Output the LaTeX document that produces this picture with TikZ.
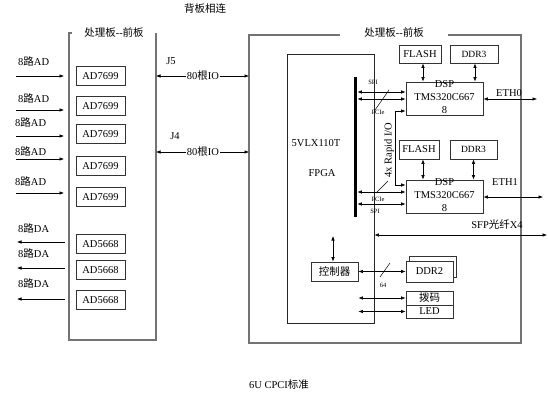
\documentclass[tikz,border=0pt]{standalone}
\usepackage{fontspec}
\setmainfont{Liberation Serif}
\newfontfamily\zhf{Noto Sans CJK SC}
\newcommand\zh[1]{{\zhf #1}}
\usetikzlibrary{arrows.meta}
\begin{document}
\begin{tikzpicture}[x=1pt,y=-1pt,
 box/.style={draw=black!80, line width=0.7pt, inner sep=0pt, fill=white, font=\fontsize{10.5}{12}\selectfont},
 frm/.style={draw=black!55, line width=1.1pt},
 arr/.style={-{Latex[length=4.5pt,width=3.5pt]}, line width=0.6pt},
 darr/.style={{Latex[length=4.5pt,width=3.5pt]}-{Latex[length=4.5pt,width=3.5pt]}, line width=0.6pt},
 lbl/.style={font=\fontsize{10.5}{12}\selectfont, inner sep=0pt},
 sm/.style={font=\fontsize{6.5}{7}\selectfont, inner sep=0pt},
]
\useasboundingbox (0,0) rectangle (548,401);

% titles
\node[lbl] (bp) at (205,9) {\zh{背板相连}};
\node[lbl] (cpci) at (279,385) {6U CPCI\zh{标准}};

% left board
\draw[frm] (72,33) -- (69,33) -- (69,340) -- (156,340) -- (156,33);
\node[lbl] (lt) at (114,32) {\zh{处理板}-{}-\zh{前板}};
\coordinate (lbr1) at (156,76);
\coordinate (lbr2) at (156,152);

% AD7699
\foreach \i/\y in {1/76,2/106,3/134,4/166,5/197}{
  \node[box, minimum width=49pt, minimum height=19pt] (ad\i) at (100.5,\y) {AD7699};
}
\foreach \i/\y/\ly/\lx in {1/76/61/18,2/110/98/18,3/136/122/15,4/159/151/15,5/193/181/15}{
  \coordinate (ain\i) at (16,\y);
  \coordinate (aout\i) at (64,\y);
  \draw[arr] (ain\i) -- (aout\i);
  \node[lbl, anchor=west] (adl\i) at (\lx,\ly) {8\zh{路}AD};
}
% AD5668
\foreach \i/\y in {1/244,2/270,3/300}{
  \node[box, minimum width=49pt, minimum height=19pt] (da\i) at (100.5,\y) {AD5668};
}
\foreach \i/\y/\ly in {1/242/228,2/268/253,3/299/283}{
  \coordinate (dain\i) at (65,\y);
  \coordinate (daout\i) at (17,\y);
  \draw[arr] (dain\i) -- (daout\i);
  \node[lbl, anchor=west] (dal\i) at (18,\ly) {8\zh{路}DA};
}

% right board
\draw[frm] (340,35) -- (249,35) -- (249,343) -- (521,343) -- (521,35) -- (448,35);
\node[lbl] (rt) at (394,32) {\zh{处理板}-{}-\zh{前板}};
\coordinate (rbl1) at (249,76);
\coordinate (rbl2) at (249,152);

% backplane IO
\draw[darr] (lbr1) -- (rbl1);
\draw[darr] (lbr2) -- (rbl2);
\node[lbl, fill=white, inner sep=1pt] (io1) at (203,76) {80\zh{根}IO};
\node[lbl, fill=white, inner sep=1pt] (io2) at (203,152) {80\zh{根}IO};
\node[lbl] (j5) at (171,61) {J5};
\node[lbl] (j4) at (175,136) {J4};

% FPGA
\node[draw=black!85, line width=0.7pt, minimum width=87pt, minimum height=269pt, inner sep=0pt] (fpga) at (330.5,188.5) {};
\node[lbl] (fp1) at (316,143) {5VLX110T};
\node[lbl] (fp2) at (322,173) {FPGA};
\node[fill=black, minimum width=3.6pt, minimum height=140pt, inner sep=0pt] (bar) at (355.3,147) {};

% DSP0 group
\node[box, minimum width=42pt, minimum height=18pt] (fl0) at (420,54) {FLASH};
\node[box, minimum width=48pt, minimum height=18pt, font=\fontsize{9.5}{11}\selectfont] (dd0) at (474,54) {DDR3};
\node[box, minimum width=77pt, minimum height=33pt] (dsp0) at (444.5,98.5) {};
\node[lbl, align=center, font=\fontsize{10.5}{13}\selectfont] (dsp0t) at (444.5,97) {DSP\\TMS320C667\\8};
\draw[darr] ([xshift=3pt]fl0.south) -- ([xshift=3pt]fl0.south |- dsp0.north);
\draw[darr] ([xshift=1pt]dd0.south) -- ([xshift=1pt]dd0.south |- dsp0.north);

% DSP1 group
\node[box, minimum width=40pt, minimum height=19pt] (fl1) at (419,149.5) {FLASH};
\node[box, minimum width=47pt, minimum height=19pt, font=\fontsize{9.5}{11}\selectfont] (dd1) at (473.5,149.5) {DDR3};
\node[box, minimum width=77pt, minimum height=33pt] (dsp1) at (444.5,196.5) {};
\node[lbl, align=center, font=\fontsize{10.5}{13}\selectfont] (dsp1t) at (444.5,195) {DSP\\TMS320C667\\8};
\draw[darr] ([xshift=4pt]fl1.south) -- ([xshift=4pt]fl1.south |- dsp1.north);
\draw[darr] (dd1.south) -- (dd1.south |- dsp1.north);

% FPGA - DSP links
\draw[darr] (bar.east |- 0,92) -- (dsp0.west |- 0,92);
\draw[darr] (bar.east |- 0,99) -- (dsp0.west |- 0,99);
\draw[darr] (bar.east |- 0,192) -- (dsp1.west |- 0,192);
\draw[darr] (bar.east |- 0,204) -- (dsp1.west |- 0,204);
\draw[line width=0.5pt] (375,110) -- (389,90);
\draw[line width=0.5pt] (376,193) -- (388,181);
\node[sm] (spi0) at (373,82) {SPI};
\node[sm] (pci0) at (378,112) {PCIe};
\node[sm] (pci1) at (378,199) {PCIe};
\node[sm] (spi1) at (375,211) {SPI};

% Rapid IO
\draw[darr] (dsp0.west |- 0,111) -- (395,111) -- (395,185) -- (dsp1.west |- 0,185);
\node[lbl, rotate=90] (rio) at (389,150) {4x Rapid I/O};

% ETH
\coordinate (eth0e) at (537,99);
\coordinate (eth1e) at (543,197);
\draw[darr] (dsp0.east |- eth0e) -- (eth0e);
\draw[darr] (dsp1.east |- eth1e) -- (eth1e);
\node[lbl] (eth0) at (509,93) {ETH0};
\node[lbl] (eth1) at (505,182) {ETH1};

% SFP
\coordinate (sfpe) at (547,235);
\draw[darr] (fpga.east |- sfpe) -- (sfpe);
\node[lbl] (sfp) at (497,225) {SFP\zh{光纤}X4};

% controller
\node[box, minimum width=47pt, minimum height=19pt] (ctrl) at (334.5,271.5) {\zh{控制器}};
\coordinate (ctop) at (333,236);
\draw[darr] (ctrl.north -| ctop) -- (ctop);

% DDR2
\node[box, minimum width=47pt, minimum height=21pt] (ddr2s) at (433,266.5) {};
\node[box, minimum width=47pt, minimum height=21pt] (ddr2) at (429.5,271.5) {DDR2};
\draw[darr] (ctrl.east) -- (ddr2.west);
\draw[line width=0.5pt] (380,277) -- (390,263);
\node[sm] (n64) at (383,285) {64};

% DIP / LED
\node[box, minimum width=47pt, minimum height=14pt] (dip) at (429.5,298) {\zh{拨码}};
\node[box, minimum width=47pt, minimum height=13pt] (led) at (429.5,311.5) {LED};
\draw[darr] (ctrl.east |- dip.west) -- (dip.west);
\draw[darr] (ctrl.east |- led.west) -- (led.west);
\end{tikzpicture}
\end{document}
